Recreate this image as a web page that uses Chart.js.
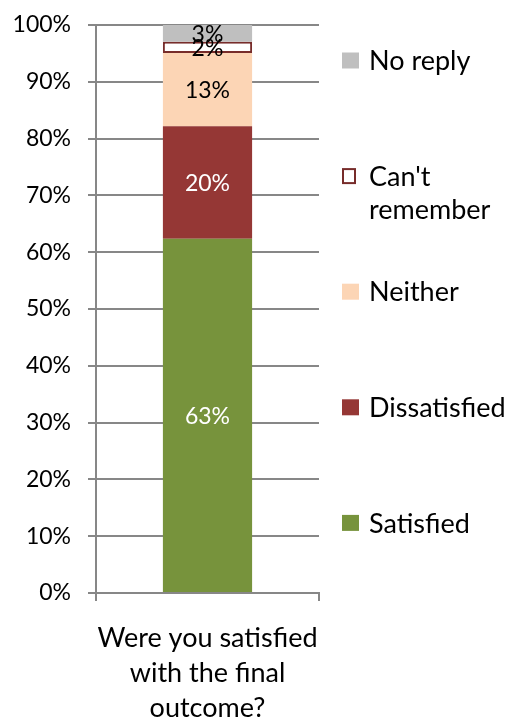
<!DOCTYPE html>
<html>
<head>
<meta charset="utf-8">
<script src="https://cdn.jsdelivr.net/npm/chart.js@4/dist/chart.umd.min.js"></script>
<style>
  html, body { margin: 0; padding: 0; background: #ffffff; }
  #wrap { width: 510px; height: 722px; }
</style>
</head>
<body>
<div id="wrap"><canvas id="c" width="510" height="722"></canvas></div>
<script>
// Survey answers (percent of respondents, as labelled)
const categories = [['Were you satisfied', 'with the final', 'outcome?']];
const seriesNames = ['Satisfied', 'Dissatisfied', 'Neither', "Can't remember", 'No reply'];
const satisfied = [63];
const dissatisfied = [20];
const neither = [13];
const cantRemember = [2];
const noReply = [3];
const yTickValues = [0, 10, 20, 30, 40, 50, 60, 70, 80, 90, 100];

const seriesValues = [satisfied, dissatisfied, neither, cantRemember, noReply];
const fills = ['#77933C', '#953735', '#FCD5B5', '#FFFFFF', '#BFBFBF'];
const borders = [null, null, null, '#772C2A', null];
const labelColors = ['#FFFFFF', '#FFFFFF', '#000000', '#000000', '#000000'];

// 100% stacked: each segment is its share of the category total
const totals = categories.map((_, i) => seriesValues.reduce((s, arr) => s + arr[i], 0));

const FONT = 'Lato, "Open Sans", sans-serif';
const AXIS_GREY = '#878787';

const datasets = seriesNames.map((name, k) => ({
  label: name,
  raw: seriesValues[k],
  data: seriesValues[k].map((v, i) => v / totals[i] * 100),
  backgroundColor: fills[k],
  borderColor: borders[k] || fills[k],
  borderWidth: borders[k] ? 2 : 0,
  borderSkipped: false,
  barPercentage: 0.4,
  categoryPercentage: 1.0,
  labelColor: labelColors[k]
}));

// Value labels centred in each segment
const segmentLabels = {
  id: 'segmentLabels',
  afterDatasetsDraw(chart) {
    const ctx = chart.ctx;
    ctx.save();
    ctx.font = '23px ' + FONT;
    ctx.textAlign = 'center';
    ctx.textBaseline = 'middle';
    chart.data.datasets.forEach((ds, k) => {
      const meta = chart.getDatasetMeta(k);
      meta.data.forEach((el, i) => {
        const cy = (el.y + el.base) / 2;
        ctx.fillStyle = ds.labelColor;
        ctx.fillText(ds.raw[i] + '%', el.x, cy + 1);
      });
    });
    ctx.restore();
  }
};

// Legend on the right, top item = top segment
const sideLegend = {
  id: 'sideLegend',
  afterDraw(chart) {
    const ctx = chart.ctx;
    const items = chart.data.datasets.slice().reverse();
    const boxX = 342, box = 16, textX = 369, maxW = 136;
    const firstY = 60.5, step = 115.6, lineH = 33;
    ctx.save();
    ctx.font = '27px ' + FONT;
    ctx.textBaseline = 'middle';
    ctx.textAlign = 'left';
    items.forEach((ds, j) => {
      const cy = firstY + j * step;
      if (ds.borderWidth > 0) {
        ctx.fillStyle = ds.backgroundColor;
        ctx.fillRect(boxX, cy - box / 2, box - 2, box);
        ctx.strokeStyle = ds.borderColor;
        ctx.lineWidth = 2;
        ctx.strokeRect(boxX + 1, cy - box / 2 + 1, box - 4, box - 2);
      } else {
        ctx.fillStyle = ds.backgroundColor;
        ctx.fillRect(boxX, cy - box / 2, box + 1, box);
      }
      // wrap words to the available width
      const words = ds.label.split(' ');
      const lines = [];
      let cur = '';
      words.forEach(w => {
        const t = cur ? cur + ' ' + w : w;
        if (cur && ctx.measureText(t).width > maxW) { lines.push(cur); cur = w; }
        else cur = t;
      });
      lines.push(cur);
      ctx.fillStyle = '#000000';
      lines.forEach((ln, n) => ctx.fillText(ln, textX, cy + 1 + n * lineH));
    });
    ctx.restore();
  }
};

new Chart(document.getElementById('c'), {
  type: 'bar',
  data: { labels: categories, datasets },
  options: {
    responsive: false,
    devicePixelRatio: 1,
    animation: false,
    layout: { padding: { top: 25, right: 191, left: 0, bottom: 0 } },
    plugins: { legend: { display: false }, tooltip: { enabled: false } },
    scales: {
      x: {
        stacked: true,
        offset: true,
        grid: { offset: true, drawOnChartArea: false, drawTicks: true, tickLength: 8, color: AXIS_GREY, lineWidth: 2 },
        border: { color: AXIS_GREY, width: 2 },
        ticks: { color: '#000000', font: { family: FONT, size: 27, lineHeight: 1.3 }, padding: 20, maxRotation: 0 },
        afterFit(scale) { scale.height = 129; }
      },
      y: {
        stacked: true,
        min: 0,
        max: 100,
        afterBuildTicks(scale) { scale.ticks = yTickValues.map(v => ({ value: v })); },
        grid: { color: AXIS_GREY, lineWidth: 2, tickLength: 8 },
        border: { color: AXIS_GREY, width: 2 },
        ticks: { color: '#000000', font: { family: FONT, size: 23 }, padding: 17, callback: v => v + '%' },
        afterFit(scale) {
          scale.width = 96;
          scale.paddingTop = 0;
          scale.paddingBottom = 0;
        }
      }
    }
  },
  plugins: [segmentLabels, sideLegend]
});
</script>
</body>
</html>
